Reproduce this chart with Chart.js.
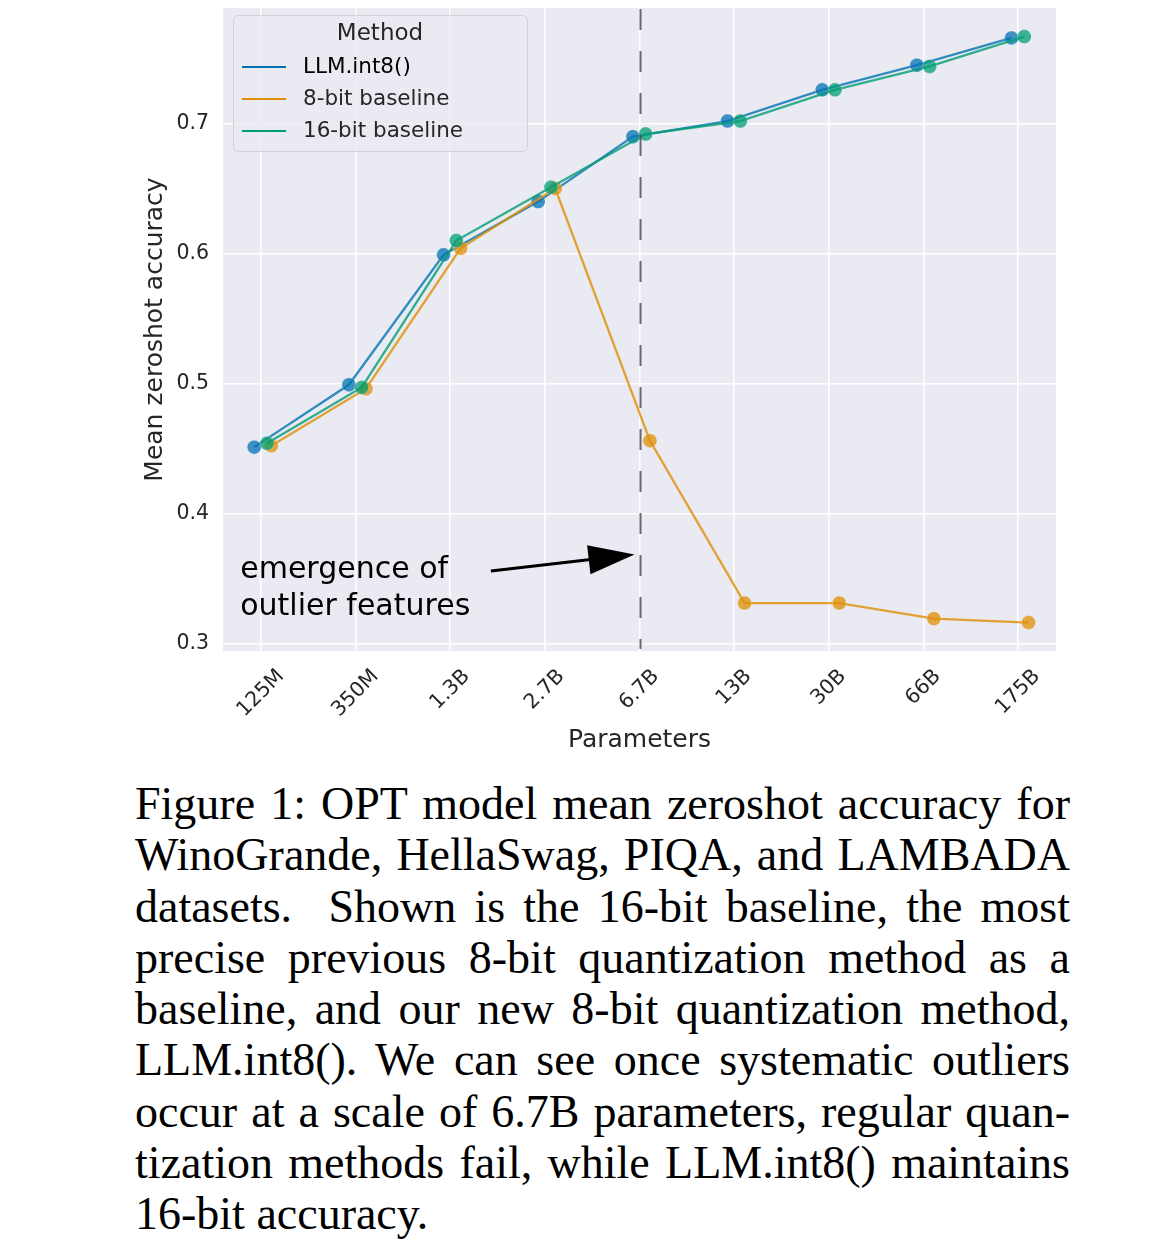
<!DOCTYPE html>
<html>
<head>
<meta charset="utf-8">
<script src="https://cdn.jsdelivr.net/npm/chart.js@4.4.0/dist/chart.umd.min.js"></script>
<style>
  html, body { margin: 0; padding: 0; background: #fff; }
  #wrap { position: absolute; left: 0; top: 0; width: 1168px; height: 770px; }
  #caption {
    position: absolute; left: 135px; top: 778px; width: 935px;
    font-family: "Liberation Serif", "Times New Roman", serif;
    font-size: 46px; line-height: 51.3px; color: #000;
  }
  #caption div { text-align: justify; text-align-last: justify; }
  #caption div.last { text-align-last: left; }
</style>
</head>
<body>
<div id="wrap"><canvas id="chart"></canvas></div>
<div id="caption">
  <div>Figure 1: OPT model mean zeroshot accuracy for</div>
  <div>WinoGrande, HellaSwag, PIQA, and LAMBADA</div>
  <div>datasets.&nbsp; Shown is the 16-bit baseline, the most</div>
  <div>precise previous 8-bit quantization method as a</div>
  <div>baseline, and our new 8-bit quantization method,</div>
  <div>LLM.int8(). We can see once systematic outliers</div>
  <div>occur at a scale of 6.7B parameters, regular quan-</div>
  <div>tization methods fail, while LLM.int8() maintains</div>
  <div class="last">16-bit accuracy.</div>
</div>
<script>
// data
const categories = ["125M", "350M", "1.3B", "2.7B", "6.7B", "13B", "30B", "66B", "175B"];
const llmInt8 = [0.451, 0.499, 0.599, 0.640, 0.690, 0.702, 0.726, 0.745, 0.766];
const baseline8bit = [0.452, 0.496, 0.604, 0.650, 0.456, 0.331, 0.331, 0.319, 0.316];
const baseline16bit = [0.454, 0.497, 0.610, 0.651, 0.692, 0.702, 0.726, 0.744, 0.767];
const seriesNames = ["LLM.int8()", "8-bit baseline", "16-bit baseline"];
const seriesColors = ["1, 115, 178", "222, 143, 5", "2, 158, 115"];
// small horizontal dodge per series (category units)
const dodge = [-0.07, 0.11, 0.065];
const yTicks = [0.3, 0.4, 0.5, 0.6, 0.7];

// annotation, in data units
const markerCategory = 4; // 6.7B
const noteLines = ["emergence of", "outlier features"];
const notePos = { x: -0.218, y: 0.350 };
const arrowFrom = { x: 2.43, y: 0.3556 };
const arrowTo = { x: 3.947, y: 0.3684 };

const FONT = "'DejaVu Sans', sans-serif";
const TXT = "#262626";

const makePoints = (values, k) => values.map((v, i) => ({ x: i + dodge[k], y: v }));

const allSeries = [llmInt8, baseline8bit, baseline16bit];
const datasets = allSeries.map((vals, k) => ({
  label: seriesNames[k],
  data: makePoints(vals, k),
  borderColor: `rgba(${seriesColors[k]}, 0.8)`,
  backgroundColor: `rgba(${seriesColors[k]}, 0.75)`,
  pointBackgroundColor: `rgba(${seriesColors[k]}, 0.75)`,
  pointBorderColor: `rgba(255, 255, 255, 0.25)`,
  pointBorderWidth: 1,
  pointRadius: 7,
  borderWidth: 2.3,
  tension: 0,
  // green on top, then orange, then blue
  order: [2, 1, 0][k],
}));

const bgPlugin = {
  id: "bg",
  beforeDraw(chart) {
    const { ctx, chartArea: a } = chart;
    ctx.save();
    ctx.fillStyle = "#EAEAF2";
    ctx.fillRect(a.left, a.top, a.right - a.left, a.bottom - a.top);
    ctx.restore();
  },
};

const extrasPlugin = {
  id: "extras",
  afterDatasetsDraw(chart) {
    const { ctx, chartArea: a, scales } = chart;
    const xs = scales.x, ys = scales.y;
    ctx.save();

    // dashed vertical marker
    const vx = Math.round(xs.getPixelForValue(markerCategory)) + 0.5;
    ctx.strokeStyle = "rgba(80, 80, 80, 0.85)";
    ctx.lineWidth = 2;
    ctx.setLineDash([21, 21]);
    ctx.beginPath();
    ctx.moveTo(vx, a.top + 1);
    ctx.lineTo(vx, a.bottom - 2);
    ctx.stroke();
    ctx.setLineDash([]);

    // annotation text
    ctx.fillStyle = "#000";
    ctx.font = `30px ${FONT}`;
    ctx.textAlign = "left";
    ctx.textBaseline = "alphabetic";
    const tx = xs.getPixelForValue(notePos.x);
    const ty = ys.getPixelForValue(notePos.y);
    noteLines.forEach((ln, i) => ctx.fillText(ln, tx, ty + i * 37));

    // arrow
    const x0 = xs.getPixelForValue(arrowFrom.x), y0 = ys.getPixelForValue(arrowFrom.y);
    const x1 = xs.getPixelForValue(arrowTo.x), y1 = ys.getPixelForValue(arrowTo.y);
    const ang = Math.atan2(y1 - y0, x1 - x0);
    const headLen = 46, headW = 14.5;
    const bx = x1 - headLen * Math.cos(ang), by = y1 - headLen * Math.sin(ang);
    ctx.strokeStyle = "#000";
    ctx.lineWidth = 3;
    ctx.beginPath();
    ctx.moveTo(x0, y0);
    ctx.lineTo(bx + 4 * Math.cos(ang), by + 4 * Math.sin(ang));
    ctx.stroke();
    ctx.fillStyle = "#000";
    ctx.beginPath();
    ctx.moveTo(x1, y1);
    ctx.lineTo(bx - headW * Math.sin(ang), by + headW * Math.cos(ang));
    ctx.lineTo(bx + headW * Math.sin(ang), by - headW * Math.cos(ang));
    ctx.closePath();
    ctx.fill();

    // rotated category labels, centred under each tick like matplotlib
    ctx.font = `20.5px ${FONT}`;
    ctx.fillStyle = TXT;
    ctx.textAlign = "center";
    ctx.textBaseline = "middle";
    const top = a.bottom + 17;
    categories.forEach((c, i) => {
      const w = ctx.measureText(c).width;
      const half = (w + 15) * Math.SQRT1_2 / 2;
      ctx.save();
      ctx.translate(xs.getPixelForValue(i), top + half);
      ctx.rotate(-Math.PI / 4);
      ctx.fillText(c, 0, 0);
      ctx.restore();
    });
    ctx.restore();
  },
  afterDraw(chart) {
    // legend box with title, inside the axes
    const { ctx } = chart;
    const L = 233, T = 15, W = 294, H = 136;
    ctx.save();
    ctx.fillStyle = "rgba(234, 234, 242, 0.8)";
    ctx.strokeStyle = "rgba(204, 204, 204, 0.8)";
    ctx.lineWidth = 1;
    ctx.beginPath();
    ctx.roundRect(L + 0.5, T + 0.5, W, H, 5);
    ctx.fill();
    ctx.stroke();
    ctx.fillStyle = TXT;
    ctx.font = `23px ${FONT}`;
    ctx.textAlign = "center";
    ctx.textBaseline = "middle";
    ctx.fillText("Method", L + W / 2, T + 19);
    ctx.textAlign = "left";
    ctx.font = `21.5px ${FONT}`;
    chart.data.datasets.forEach((ds, k) => {
      const yy = T + 52 + k * 32;
      ctx.strokeStyle = `rgb(${seriesColors[k]})`;
      ctx.lineWidth = 2;
      ctx.beginPath();
      ctx.moveTo(L + 9, yy);
      ctx.lineTo(L + 53, yy);
      ctx.stroke();
      ctx.fillStyle = k === 0 ? "#000" : TXT;
      ctx.fillText(ds.label, L + 70, yy);
    });
    ctx.restore();
  },
};

new Chart(document.getElementById("chart"), {
  type: "line",
  data: { datasets },
  options: {
    responsive: true,
    maintainAspectRatio: false,
    animation: false,
    layout: { padding: { left: 128, right: 112, top: 5, bottom: 0 } },
    plugins: {
      legend: { display: false },
      tooltip: { enabled: false },
    },
    scales: {
      x: {
        type: "linear",
        min: -0.4,
        max: 8.4,
        afterBuildTicks: (s) => { s.ticks = categories.map((c, i) => ({ value: i })); },
        afterFit: (s) => { s.height = 119; s.paddingLeft = 0; s.paddingRight = 0; },
        ticks: { display: false },
        grid: { color: "#ffffff", lineWidth: 1.5, drawTicks: false },
        border: { display: false },
        title: {
          display: true,
          text: "Parameters",
          color: TXT,
          font: { family: FONT, size: 25 },
          padding: { top: 0, bottom: 15 },
        },
      },
      y: {
        min: 0.2941,
        max: 0.789,
        afterBuildTicks: (s) => { s.ticks = yTicks.map((v) => ({ value: v })); },
        afterFit: (s) => { s.width = 95; s.paddingTop = 0; s.paddingBottom = 0; },
        ticks: {
          color: TXT,
          font: { family: FONT, size: 20.5 },
          padding: 14,
          callback: (v) => v.toFixed(1),
        },
        grid: { color: "#ffffff", lineWidth: 1.5, drawTicks: false },
        border: { display: false },
        title: {
          display: true,
          text: "Mean zeroshot accuracy",
          color: TXT,
          font: { family: FONT, size: 25 },
          padding: { top: 12, bottom: 0 },
        },
      },
    },
  },
  plugins: [bgPlugin, extrasPlugin],
});
</script>
</body>
</html>
